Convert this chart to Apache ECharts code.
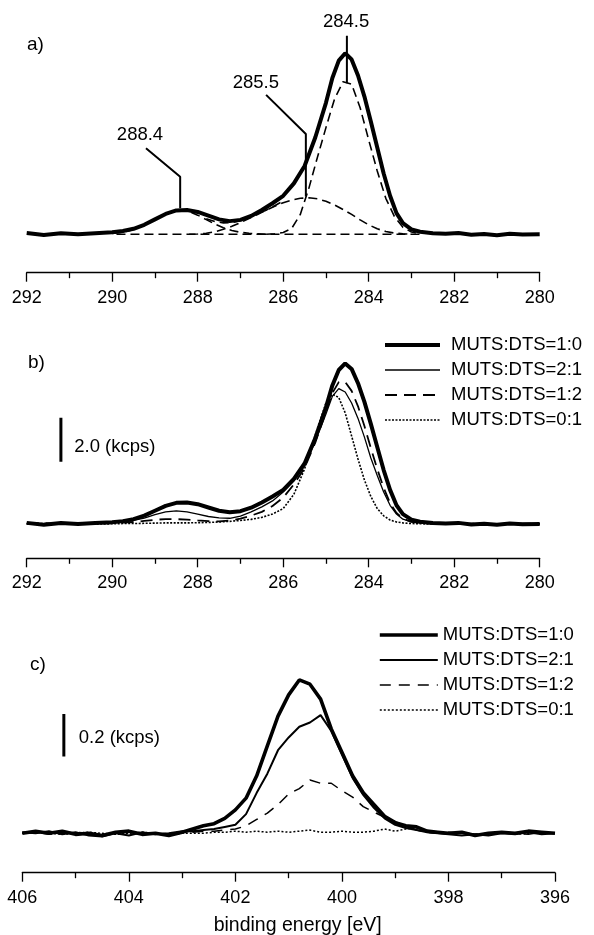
<!DOCTYPE html>
<html><head><meta charset="utf-8">
<script src="https://cdn.jsdelivr.net/npm/echarts@6/dist/echarts.min.js"></script>
<style>html,body{margin:0;padding:0;background:#fff}#c{width:594px;height:935px}</style>
</head><body><div id="c"></div>
<script>
// ---------- DATA ----------
// C 1s spectra (panels a, b), kcps
const energyB = [292.0, 291.6, 291.2, 290.8, 290.4, 290.0, 289.75, 289.5, 289.25, 289.0,
  288.75, 288.5, 288.25, 288.0, 287.75, 287.5, 287.25, 287.0, 286.75, 286.5,
  286.25, 286.0, 285.75, 285.5, 285.25, 285.0, 284.85, 284.7, 284.55, 284.4,
  284.25, 284.1, 283.95, 283.8, 283.65, 283.5, 283.35, 283.2, 283.0, 282.8,
  282.5, 282.2, 281.9, 281.6, 281.3, 281.0, 280.7, 280.4, 280.0];
const cMuts10 = [0.05, -0.03, 0.04, 0.0, 0.04, 0.08, 0.13, 0.22, 0.38, 0.6,
  0.82, 0.96, 0.98, 0.9, 0.75, 0.6, 0.53, 0.58, 0.74, 0.98,
  1.25, 1.55, 2.05, 2.75, 3.9, 5.3, 6.3, 7.0, 7.3, 7.05,
  6.4, 5.55, 4.55, 3.5, 2.45, 1.55, 0.85, 0.45, 0.2, 0.1,
  0.04, 0.02, 0.05, -0.02, 0.01, -0.04, 0.02, -0.01, 0.0];
const cMuts21 = [0.03, 0.0, 0.02, -0.01, 0.03, 0.06, 0.1, 0.16, 0.27, 0.42,
  0.55, 0.6, 0.55, 0.45, 0.34, 0.28, 0.26, 0.36, 0.55, 0.78,
  1.05, 1.45, 1.95, 2.65, 3.75, 5.0, 5.8, 6.15, 6.0, 5.5,
  4.8, 3.95, 3.0, 2.2, 1.45, 0.85, 0.45, 0.22, 0.1, 0.05,
  0.02, 0.0, 0.03, -0.01, 0.02, -0.02, 0.01, 0.0, 0.01];
const cMuts12 = [0.02, 0.04, -0.01, 0.02, 0.02, 0.04, 0.06, 0.09, 0.14, 0.19,
  0.22, 0.22, 0.2, 0.16, 0.13, 0.12, 0.16, 0.24, 0.38, 0.55,
  0.82, 1.2, 1.8, 2.55, 3.7, 5.1, 5.95, 6.45, 6.45, 6.05,
  5.35, 4.45, 3.45, 2.5, 1.65, 0.95, 0.5, 0.24, 0.1, 0.05,
  0.02, 0.03, 0.0, 0.02, -0.01, 0.01, 0.0, 0.02, 0.0];
const cMuts01 = [0.0, 0.02, 0.0, 0.01, -0.01, 0.01, 0.02, 0.02, 0.03, 0.04,
  0.05, 0.05, 0.05, 0.06, 0.07, 0.09, 0.12, 0.16, 0.21, 0.3,
  0.45, 0.7, 1.35, 2.5, 4.05, 5.5, 5.9, 5.75, 5.05, 4.0,
  2.95, 2.0, 1.25, 0.7, 0.37, 0.18, 0.09, 0.05, 0.02, 0.01,
  0.0, 0.01, -0.01, 0.01, 0.0, 0.01, -0.01, 0.0, 0.01];

// Peak fit components (panel a); null = not drawn
const energyFit = [290.0, 289.8, 289.6, 289.4, 289.2, 289.0, 288.8, 288.6, 288.4, 288.2,
  288.0, 287.8, 287.6, 287.4, 287.2, 287.0, 286.8, 286.6, 286.4, 286.2,
  286.0, 285.8, 285.6, 285.4, 285.2, 285.0, 284.8, 284.6, 284.4, 284.2,
  284.0, 283.8, 283.6, 283.4, 283.2, 283.0, 282.8];
const fit2884 = [0.03, 0.07, 0.14, 0.26, 0.42, 0.61, 0.79, 0.92, 0.96, 0.91,
  0.77, 0.59, 0.41, 0.26, 0.15, 0.08, 0.04, 0.02, 0.0, null,
  null, null, null, null, null, null, null, null, null, null,
  null, null, null, null, null, null, null];
const fit2855 = [null, null, null, null, null, null, null, null, null, 0.0,
  0.01, 0.04, 0.1, 0.2, 0.32, 0.47, 0.63, 0.8, 0.97, 1.13,
  1.27, 1.38, 1.45, 1.47, 1.43, 1.33, 1.18, 1.0, 0.8, 0.58,
  0.38, 0.22, 0.11, 0.05, 0.02, 0.0, null];
const fit2845 = [null, null, null, null, null, null, null, null, null, null,
  null, null, null, null, null, null, null, null, 0.0, 0.02,
  0.07, 0.24, 0.8, 1.85, 3.1, 4.3, 5.45, 6.15, 6.05, 5.1,
  3.8, 2.55, 1.45, 0.72, 0.28, 0.09, 0.02];
const fitSum = [null, null, null, null, null, null, null, null, null, null,
  null, 0.63, 0.51, 0.46, 0.47, 0.55, 0.67, 0.82, 0.97, 1.15,
  1.34, null, null, null, null, null, null, null, null, null,
  null, null, null, null, null, null, null];
const fitBaseE = [289.9, 282.8];
const fitBaseY = [0, 0];

// Peak labels (panel a)
const peakLabels = ['288.4', '285.5', '284.5'];

// N 1s spectra (panel c), kcps
const energyC = [406.0, 405.75, 405.5, 405.25, 405.0, 404.75, 404.5, 404.25, 404.0, 403.75,
  403.5, 403.25, 403.0, 402.8, 402.6, 402.4, 402.2, 402.0, 401.8, 401.6,
  401.4, 401.2, 401.0, 400.8, 400.6, 400.4, 400.2, 400.0, 399.8, 399.6,
  399.4, 399.2, 399.0, 398.8, 398.6, 398.4, 398.2, 398.0, 397.75, 397.5,
  397.25, 397.0, 396.75, 396.5, 396.25, 396.0];
const nMuts10 = [0.0, 0.01, 0.0, 0.01, -0.005, 0.0, -0.01, 0.005, 0.01, -0.005,
  0.0, -0.01, 0.005, 0.02, 0.035, 0.045, 0.07, 0.11, 0.165, 0.27,
  0.41, 0.55, 0.65, 0.72, 0.7, 0.63, 0.49, 0.38, 0.27, 0.19,
  0.135, 0.08, 0.05, 0.035, 0.03, 0.01, 0.005, 0.0, 0.005, -0.01,
  0.0, 0.005, 0.0, 0.01, 0.005, 0.0];
const nMuts21 = [0.005, 0.0, 0.01, -0.005, 0.005, -0.01, -0.015, 0.0, -0.01, 0.005,
  -0.005, 0.0, 0.01, 0.01, 0.015, 0.02, 0.03, 0.04, 0.09, 0.19,
  0.28, 0.39, 0.45, 0.5, 0.52, 0.555, 0.48, 0.37, 0.26, 0.18,
  0.12, 0.07, 0.04, 0.025, 0.015, 0.005, 0.0, -0.005, -0.01, -0.005,
  -0.01, 0.0, -0.005, 0.005, -0.005, 0.0];
const nMuts12 = [0.0, 0.005, -0.005, 0.0, 0.005, 0.0, -0.01, 0.0, 0.005, 0.0,
  -0.005, 0.0, 0.005, 0.005, 0.01, 0.01, 0.015, 0.02, 0.035, 0.065,
  0.095, 0.135, 0.185, 0.21, 0.25, 0.235, 0.235, 0.2, 0.17, 0.125,
  0.1, 0.075, 0.055, 0.035, 0.015, 0.005, 0.0, 0.005, 0.0, -0.005,
  0.0, 0.005, 0.0, -0.005, 0.005, 0.0];
const nMuts01 = [0.0, 0.005, 0.0, -0.005, 0.0, 0.005, 0.0, -0.005, 0.0, 0.005,
  0.0, -0.005, 0.0, 0.0, 0.0, 0.005, 0.005, 0.01, 0.005, 0.01,
  0.005, 0.01, 0.005, 0.01, 0.015, 0.005, 0.005, 0.01, 0.005, 0.005,
  0.01, 0.02, 0.01, 0.02, 0.025, 0.01, 0.005, 0.0, 0.005, -0.005,
  0.0, 0.005, -0.005, 0.0, 0.005, 0.0];

const seriesNames = ['MUTS:DTS=1:0', 'MUTS:DTS=2:1', 'MUTS:DTS=1:2', 'MUTS:DTS=0:1'];
const xTicksAB = {min: 280, max: 292, interval: 2};
const xTicksC = {min: 396, max: 406, interval: 2};
const scaleBarB = {text: '2.0 (kcps)', value: 2.0};
const scaleBarC = {text: '0.2 (kcps)', value: 0.2};

// ---------- LAYOUT (data-coordinate anchors for annotations) ----------
const LAYOUT = {
  peakLabelPos: [[289.35, 4.0], [286.64, 6.09], [284.53, 8.57]],
  leaders: [
    [[289.21, 3.47], [288.41, 2.32], [288.41, 1.05]],
    [[286.40, 5.62], [285.47, 4.04], [285.47, 1.52]],
    [[284.51, 8.0], [284.51, 6.09]]
  ],
  barB: {x: 291.2, y0: 2.83, textX: 290.89, textY: 3.51},
  barC: {x: 405.22, y0: 0.36, textX: 404.94, textY: 0.446}
};

const FONT = '"Liberation Sans", Arial, Helvetica, sans-serif';
const BLACK = '#000';

function pts(xs, ys) {
  const out = [];
  for (let i = 0; i < xs.length; i++) if (ys[i] !== null) out.push([xs[i], ys[i]]);
  return out;
}
function lineS(name, gi, data, width, type, z) {
  return {
    type: 'line', name: name, xAxisIndex: gi, yAxisIndex: gi, data: data,
    symbol: 'none', showSymbol: false, silent: true, animation: false, z: z || 2,
    lineStyle: {color: BLACK, width: width, type: type || 'solid', opacity: 1},
    itemStyle: {color: BLACK}
  };
}
function textS(gi, items, position) {
  return {
    type: 'scatter', xAxisIndex: gi, yAxisIndex: gi, silent: true, animation: false,
    symbolSize: 0.1, itemStyle: {color: 'rgba(0,0,0,0)', opacity: 1}, z: 5,
    data: items.map(it => ({name: it.text, value: [it.x, it.y]})),
    label: {show: true, position: position, distance: 0, formatter: p => p.name,
      color: BLACK, opacity: 1, textBorderWidth: 0, fontSize: 18.5, fontFamily: FONT}
  };
}
function xAxisCfg(gi, t) {
  return {
    type: 'value', gridIndex: gi, min: t.min, max: t.max, interval: t.interval, inverse: true,
    axisLine: {show: true, onZero: false, lineStyle: {color: BLACK, width: 1.3}},
    axisTick: {show: true, length: 9, lineStyle: {color: BLACK, width: 1.3}},
    minorTick: {show: true, splitNumber: 2, length: 5.5, lineStyle: {color: BLACK, width: 1.3}},
    splitLine: {show: false}, minorSplitLine: {show: false},
    axisLabel: {color: BLACK, fontSize: 18, fontFamily: FONT, margin: 16,
      showMinLabel: true, showMaxLabel: true}
  };
}
function yAxisCfg(gi, min, max) {
  return {type: 'value', gridIndex: gi, min: min, max: max, show: false,
    splitLine: {show: false}};
}

const chart = echarts.init(document.getElementById('c'), null, {renderer: 'canvas'});

const series = [];
// Panel a
series.push(lineS('a-base', 0, pts(fitBaseE, fitBaseY), 1.6, [9, 5], 1));
series.push(lineS('a-288', 0, pts(energyFit, fit2884), 1.6, [9, 5], 1));
series.push(lineS('a-285', 0, pts(energyFit, fit2855), 1.6, [9, 5], 1));
series.push(lineS('a-284', 0, pts(energyFit, fit2845), 1.6, [9, 5], 1));
series.push(lineS('a-sum', 0, pts(energyFit, fitSum), 1.6, [9, 5], 1));
series.push(lineS('a-data', 0, pts(energyB, cMuts10), 4, 'solid', 3));
LAYOUT.leaders.forEach((seg, i) => series.push(lineS('a-lead' + i, 0, seg, 2, 'solid', 4)));
series.push(textS(0, peakLabels.map((t, i) => ({text: t, x: LAYOUT.peakLabelPos[i][0], y: LAYOUT.peakLabelPos[i][1]})), 'inside'));

// Panel b
const bStyles = [[4, 'solid', 5], [1.3, 'solid', 4], [1.8, [12, 7], 3], [1.6, [2, 1.5], 2]];
const bData = [cMuts10, cMuts21, cMuts12, cMuts01];
bData.forEach((d, i) => series.push(lineS('b:' + seriesNames[i], 1, pts(energyB, d), bStyles[i][0], bStyles[i][1], bStyles[i][2])));
series.push(lineS('b-bar', 1, [[LAYOUT.barB.x, LAYOUT.barB.y0], [LAYOUT.barB.x, LAYOUT.barB.y0 + scaleBarB.value]], 3, 'solid', 4));
series.push(textS(1, [{text: scaleBarB.text, x: LAYOUT.barB.textX, y: LAYOUT.barB.textY}], 'right'));

// Panel c
const cStyles = [[3.6, 'solid', 5], [2, 'solid', 4], [1.5, [11, 8], 3], [1.5, [2, 2], 2]];
const cData = [nMuts10, nMuts21, nMuts12, nMuts01];
cData.forEach((d, i) => series.push(lineS('c:' + seriesNames[i], 2, pts(energyC, d), cStyles[i][0], cStyles[i][1], cStyles[i][2])));
series.push(lineS('c-bar', 2, [[LAYOUT.barC.x, LAYOUT.barC.y0], [LAYOUT.barC.x, LAYOUT.barC.y0 + scaleBarC.value]], 3, 'solid', 4));
series.push(textS(2, [{text: scaleBarC.text, x: LAYOUT.barC.textX, y: LAYOUT.barC.textY}], 'right'));

function legendCfg(prefix, left, top, itemWidth, textPad) {
  return {
    orient: 'vertical', left: left, top: top, padding: 0,
    itemWidth: itemWidth, itemHeight: 14, itemGap: 5, selectedMode: false,
    data: seriesNames.map(n => prefix + n),
    formatter: n => n.slice(2),
    textStyle: {fontSize: 18.5, color: BLACK, fontFamily: FONT, lineHeight: 20,
      padding: [0, 0, 0, textPad]},
    itemStyle: {color: 'rgba(0,0,0,0)', borderColor: 'rgba(0,0,0,0)', borderWidth: 0, opacity: 0},
    lineStyle: {width: 'inherit', type: 'inherit', color: 'inherit', opacity: 1}
  };
}

const option = {
  backgroundColor: '#fff',
  animation: false,
  textStyle: {fontFamily: FONT},
  grid: [
    {left: 26.7, width: 513, top: 9.8, height: 262.9, outerBoundsMode: 'none', containLabel: false},
    {left: 26.7, width: 513, top: 326, height: 232.3, outerBoundsMode: 'none', containLabel: false},
    {left: 22.3, width: 532.7, top: 641.6, height: 231.1, outerBoundsMode: 'none', containLabel: false}
  ],
  xAxis: [
    xAxisCfg(0, xTicksAB),
    xAxisCfg(1, xTicksAB),
    Object.assign(xAxisCfg(2, xTicksC), {
      name: 'binding energy [eV]', nameLocation: 'middle', nameGap: 43,
      nameTextStyle: {color: BLACK, fontSize: 19.5, fontFamily: FONT, padding: [0, 0, 0, 18]}
    })
  ],
  yAxis: [yAxisCfg(0, -1.55, 9.05), yAxisCfg(1, -1.56, 9.0), yAxisCfg(2, -0.185, 0.9)],
  legend: [legendCfg('b:', 383, 335, 55, 6), legendCfg('c:', 378, 625, 58, 0)],
  graphic: [
    {type: 'text', left: 27, top: 35, style: {text: 'a)', font: '19px ' + FONT, fill: BLACK}},
    {type: 'text', left: 28, top: 353, style: {text: 'b)', font: '19px ' + FONT, fill: BLACK}},
    {type: 'text', left: 30, top: 655, style: {text: 'c)', font: '19px ' + FONT, fill: BLACK}}
  ],
  series: series
};
chart.setOption(option);
</script></body></html>
